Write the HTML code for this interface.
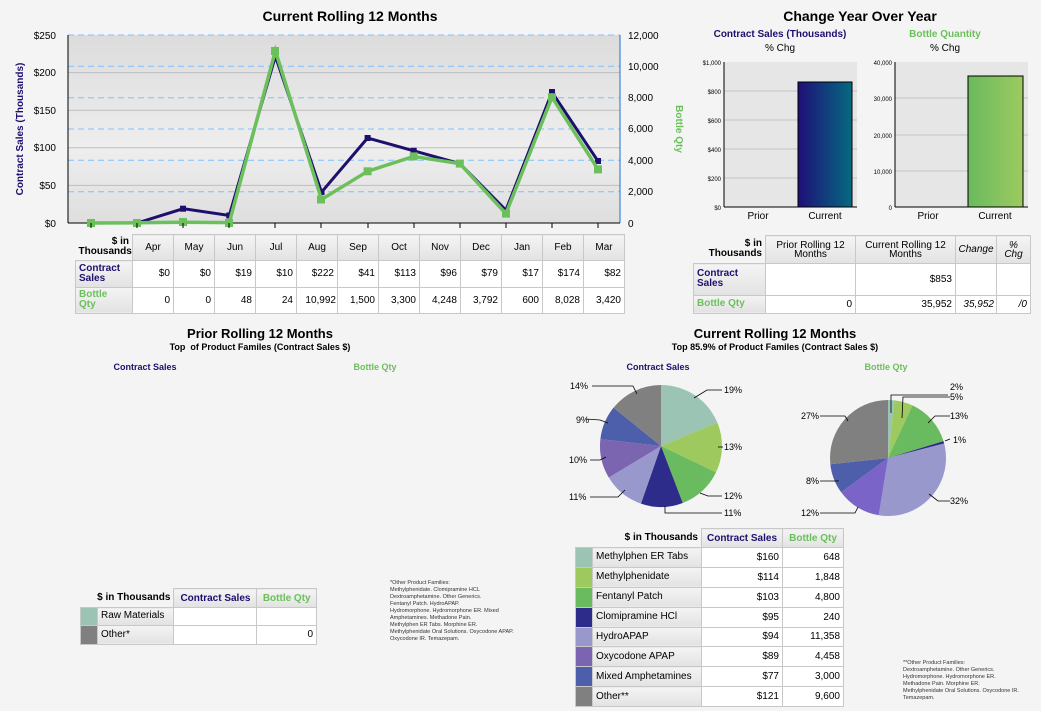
<!DOCTYPE html>
<html><head><meta charset="utf-8"><style>
body{margin:0;width:1041px;height:711px;background:#f4f4f4;font-family:"Liberation Sans",Arial,sans-serif;position:relative;overflow:hidden}
.a{position:absolute}
table{border-collapse:collapse;position:absolute;font-size:10px}
td{border:1px solid #c8c8c8;padding:0 3px;background:#fff;vertical-align:middle}
th{border:1px solid #c8c8c8;background:linear-gradient(#f4f4f4,#e2e2e2);font-weight:normal;padding:0 3px}
.hd{border:none;background:none;text-align:right;font-weight:bold;line-height:10px}
.rh{background:linear-gradient(#f4f4f4,#e2e2e2);font-weight:bold;line-height:10px;text-align:left}
.b{color:#1e0f6e}.g{color:#6cc05c}
.t{font-weight:bold;text-align:center;position:absolute}
.fx{table-layout:fixed}
</style></head><body>
<div class="t" style="left:200px;top:8px;width:300px;font-size:14px">Current Rolling 12 Months</div>
<svg class="a" style="left:0;top:0" width="690" height="235" font-family="Liberation Sans, Arial, sans-serif">
<defs><linearGradient id="pg" x1="0" y1="0" x2="0" y2="1"><stop offset="0" stop-color="#dcdcdc"/><stop offset="0.6" stop-color="#eeeeee"/><stop offset="1" stop-color="#dedede"/></linearGradient></defs>
<rect x="68" y="35" width="552" height="188" fill="url(#pg)"/>
<g stroke="#bdbdbd"><line x1="68" x2="620" y1="185.4" y2="185.4"/><line x1="68" x2="620" y1="147.8" y2="147.8"/><line x1="68" x2="620" y1="110.2" y2="110.2"/><line x1="68" x2="620" y1="72.6" y2="72.6"/></g>
<g stroke="#80c0ff" stroke-dasharray="6,4"><line x1="68" x2="620" y1="191.7" y2="191.7"/><line x1="68" x2="620" y1="160.3" y2="160.3"/><line x1="68" x2="620" y1="129" y2="129"/><line x1="68" x2="620" y1="97.7" y2="97.7"/><line x1="68" x2="620" y1="66.3" y2="66.3"/><line x1="68" x2="620" y1="35" y2="35"/></g>
<line x1="68" y1="35" x2="68" y2="223" stroke="#000"/><line x1="620" y1="35" x2="620" y2="223" stroke="#1e6ed0"/>
<line x1="68" y1="223" x2="620" y2="223" stroke="#000"/>
<g font-size="10" text-anchor="end"><text x="56" y="39">$250</text><text x="56" y="76">$200</text><text x="56" y="114">$150</text><text x="56" y="151">$100</text><text x="56" y="189">$50</text><text x="56" y="227">$0</text></g>
<g font-size="10"><text x="628" y="39">12,000</text><text x="628" y="70">10,000</text><text x="628" y="101">8,000</text><text x="628" y="132">6,000</text><text x="628" y="164">4,000</text><text x="628" y="195">2,000</text><text x="628" y="227">0</text></g>
<text transform="translate(23,129) rotate(-90)" text-anchor="middle" font-size="10" font-weight="bold" fill="#1e0f6e">Contract Sales (Thousands)</text>
<text transform="translate(676,129) rotate(90)" text-anchor="middle" font-size="10" font-weight="bold" fill="#6cc05c">Bottle Qty</text>
<polyline fill="none" stroke="#1e0f6e" stroke-width="3" points="91,223 137.1,223 183.2,208.7 229.3,215.5 275.4,56.1 321.5,192.2 367.6,138 413.7,150.8 459.8,163.6 505.9,210.2 552,92.2 598.1,161.3"/>
<g fill="#1e0f6e"><rect x="134" y="220" width="6" height="6"/><rect x="180" y="205.7" width="6" height="6"/><rect x="226.3" y="212.5" width="6" height="6"/><rect x="318.5" y="189" width="6" height="6"/><rect x="364.6" y="135" width="6" height="6"/><rect x="410.7" y="147.8" width="6" height="6"/><rect x="549" y="89" width="6" height="6"/><rect x="595" y="158" width="6" height="6"/></g>
<polyline fill="none" stroke="#6cc05c" stroke-width="3.5" points="91,223 137.1,222.8 183.2,222.2 229.3,222.6 275.4,50.8 321.5,199.5 367.6,171.3 413.7,156.4 459.8,163.6 505.9,213.6 552,97.2 598.1,169.4"/>
<g fill="#6cc05c"><rect x="87" y="219" width="8" height="8"/><rect x="133" y="219" width="8" height="8"/><rect x="179" y="218" width="8" height="8"/><rect x="225" y="219" width="8" height="8"/><rect x="271" y="47" width="8" height="8"/><rect x="317" y="195.5" width="8" height="8"/><rect x="363.6" y="167.3" width="8" height="8"/><rect x="409.7" y="152.4" width="8" height="8"/><rect x="455.8" y="159.6" width="8" height="8"/><rect x="502" y="209.6" width="8" height="8"/><rect x="548" y="93.2" width="8" height="8"/><rect x="594" y="165.4" width="8" height="8"/></g>
<g stroke="#000"><line x1="91" x2="91" y1="223" y2="228"/><line x1="137" x2="137" y1="223" y2="228"/><line x1="183" x2="183" y1="223" y2="228"/><line x1="229" x2="229" y1="223" y2="228"/><line x1="275" x2="275" y1="223" y2="228"/><line x1="321" x2="321" y1="223" y2="228"/><line x1="368" x2="368" y1="223" y2="228"/><line x1="414" x2="414" y1="223" y2="228"/><line x1="460" x2="460" y1="223" y2="228"/><line x1="506" x2="506" y1="223" y2="228"/><line x1="552" x2="552" y1="223" y2="228"/><line x1="598" x2="598" y1="223" y2="228"/></g>
</svg>
<table class="fx" style="left:75px;top:234px;width:550px;height:80px">
<colgroup><col style="width:57px"><col span="12" style="width:41px"></colgroup>
<tr style="height:26px"><th class="hd" style="background:none">$ in<br>Thousands</th><th>Apr</th><th>May</th><th>Jun</th><th>Jul</th><th>Aug</th><th>Sep</th><th>Oct</th><th>Nov</th><th>Dec</th><th>Jan</th><th>Feb</th><th>Mar</th></tr>
<tr style="text-align:right"><td class="rh b">Contract<br>Sales</td><td>$0</td><td>$0</td><td>$19</td><td>$10</td><td>$222</td><td>$41</td><td>$113</td><td>$96</td><td>$79</td><td>$17</td><td>$174</td><td>$82</td></tr>
<tr style="text-align:right"><td class="rh g">Bottle<br>Qty</td><td>0</td><td>0</td><td>48</td><td>24</td><td style="padding:0 1px">10,992</td><td>1,500</td><td>3,300</td><td>4,248</td><td>3,792</td><td>600</td><td>8,028</td><td>3,420</td></tr>
</table>

<div class="t" style="left:710px;top:8px;width:300px;font-size:14px">Change Year Over Year</div>
<div class="t b" style="left:700px;top:29px;width:160px;font-size:10px">Contract Sales (Thousands)</div>
<div class="t" style="left:700px;top:43px;width:160px;font-size:10px;font-weight:normal">% Chg</div>
<div class="t g" style="left:870px;top:29px;width:150px;font-size:10px">Bottle Quantity</div>
<div class="t" style="left:870px;top:43px;width:150px;font-size:10px;font-weight:normal">% Chg</div>
<svg class="a" style="left:690px;top:55px" width="351" height="170" font-family="Liberation Sans, Arial, sans-serif">
<defs><linearGradient id="bb" x1="0" x2="1"><stop offset="0" stop-color="#1e0f78"/><stop offset="1" stop-color="#056a80"/></linearGradient>
<linearGradient id="gb" x1="0" x2="1"><stop offset="0" stop-color="#6aba5f"/><stop offset="1" stop-color="#9dca5f"/></linearGradient></defs>
<rect x="34" y="7" width="133" height="145" fill="#e6e6e6"/>
<g stroke="#c4c4c4"><line x1="34" x2="167" y1="36" y2="36"/><line x1="34" x2="167" y1="65" y2="65"/><line x1="34" x2="167" y1="94" y2="94"/><line x1="34" x2="167" y1="123" y2="123"/></g>
<line x1="34" y1="7" x2="34" y2="152" stroke="#000"/><line x1="34" y1="152" x2="167" y2="152" stroke="#000"/>
<rect x="108" y="27" width="54" height="125" fill="url(#bb)" stroke="#000"/>
<g font-size="6" text-anchor="end"><text x="31" y="10">$1,000</text><text x="31" y="39">$800</text><text x="31" y="68">$600</text><text x="31" y="97">$400</text><text x="31" y="126">$200</text><text x="31" y="155">$0</text></g>
<text x="68" y="164" font-size="10" text-anchor="middle">Prior</text><text x="135" y="164" font-size="10" text-anchor="middle">Current</text>
<rect x="205" y="7" width="133" height="145" fill="#e6e6e6"/>
<g stroke="#c4c4c4"><line x1="205" x2="338" y1="43" y2="43"/><line x1="205" x2="338" y1="80" y2="80"/><line x1="205" x2="338" y1="116" y2="116"/></g>
<line x1="205" y1="7" x2="205" y2="152" stroke="#000"/><line x1="205" y1="152" x2="338" y2="152" stroke="#000"/>
<rect x="278" y="21" width="55" height="131" fill="url(#gb)" stroke="#000"/>
<g font-size="6" text-anchor="end"><text x="202" y="10">40,000</text><text x="202" y="46">30,000</text><text x="202" y="83">20,000</text><text x="202" y="119">10,000</text><text x="202" y="155">0</text></g>
<text x="238" y="164" font-size="10" text-anchor="middle">Prior</text><text x="305" y="164" font-size="10" text-anchor="middle">Current</text>
</svg>
<table class="fx" style="left:693px;top:235px;width:337px;height:79px">
<colgroup><col style="width:72px"><col style="width:90px"><col style="width:100px"><col style="width:41px"><col style="width:34px"></colgroup>
<tr style="height:28px"><th class="hd" style="background:none">$ in<br>Thousands</th><th style="line-height:9px">Prior Rolling 12<br>Months</th><th style="line-height:9px">Current Rolling 12<br>Months</th><th style="padding:0"><i>Change</i></th><th style="line-height:9px"><i>%<br>Chg</i></th></tr>
<tr style="text-align:right"><td class="rh b">Contract<br>Sales</td><td></td><td>$853</td><td></td><td></td></tr>
<tr style="text-align:right"><td class="rh g">Bottle Qty</td><td>0</td><td>35,952</td><td style="padding:0 2px"><i>35,952</i></td><td><i>/0</i></td></tr>
</table>

<div class="t" style="left:110px;top:326px;width:300px;font-size:13px">Prior Rolling 12 Months</div>
<div class="t" style="left:110px;top:342px;width:300px;font-size:9px">Top &nbsp;of Product Familes (Contract Sales $)</div>
<div class="t b" style="left:90px;top:362px;width:110px;font-size:9px">Contract Sales</div>
<div class="t g" style="left:320px;top:362px;width:110px;font-size:9px">Bottle Qty</div>
<table style="left:80px;top:588px;width:237px;height:57px">
<tr><th class="hd" style="border:none;background:none" colspan="2">$ in Thousands</th><th class="b" style="font-weight:bold;width:76px">Contract Sales</th><th class="g" style="font-weight:bold">Bottle Qty</th></tr>
<tr><td style="background:#9cc4b4;width:10px"></td><td class="rh" style="font-weight:normal">Raw Materials</td><td></td><td></td></tr>
<tr><td style="background:#808080"></td><td class="rh" style="font-weight:normal">Other*</td><td></td><td style="text-align:right">0</td></tr>
</table>
<div class="a" style="left:390px;top:580px;width:140px;font-size:5.5px;line-height:7px;color:#333">*Other Product Families:<br>Methylphenidate. Clomipramine HCL<br>Dextroamphetamine. Other Generics.<br>Fentanyl Patch. HydroAPAP.<br>Hydromorphone. Hydromorphone ER. Mixed Amphetamines. Methadone Pain.<br>Methylphen ER Tabs. Morphine ER.<br>Methylphenidate Oral Solutions. Oxycodone APAP. Oxycodone IR. Temazepam.</div>

<div class="t" style="left:625px;top:326px;width:300px;font-size:13px">Current Rolling 12 Months</div>
<div class="t" style="left:625px;top:342px;width:300px;font-size:9px">Top 85.9% of Product Familes (Contract Sales $)</div>
<div class="t b" style="left:603px;top:362px;width:110px;font-size:9px">Contract Sales</div>
<div class="t g" style="left:831px;top:362px;width:110px;font-size:9px">Bottle Qty</div>
<svg id="pies" class="a" style="left:0;top:0" width="1041" height="530" font-family="Liberation Sans, Arial, sans-serif" font-size="9">
<g stroke="#000" fill="none" stroke-width="0.8">
<polyline points="592,386 633,386 637,394"/><polyline points="694,398 707,390 722,390"/><polyline points="718,447 723,447"/><polyline points="700,493 708,496 722,496"/><polyline points="665,506 665,513 722,513"/>
<polyline points="586,419 600,420 608,423"/><polyline points="590,460 600,460 606,457"/><polyline points="590,497 618,497 625,490"/>
<polyline points="891,413 891,395 948,395"/><polyline points="902,418 903,397 950,397"/><polyline points="928,423 935,416 950,416"/><polyline points="945,441 950,439"/><polyline points="929,494 938,501 950,501"/><polyline points="820,416 845,416 848,421"/><polyline points="820,481 838,481 838,480"/><polyline points="820,513 855,513 858,507"/>
</g>
<g font-size="9"><text x="570" y="389">14%</text><text x="724" y="393">19%</text><text x="724" y="450">13%</text><text x="724" y="499">12%</text><text x="724" y="516">11%</text><text x="576" y="423">9%</text><text x="569" y="463">10%</text><text x="569" y="500">11%</text>
<text x="950" y="390">2%</text><text x="950" y="400">5%</text><text x="950" y="419">13%</text><text x="953" y="443">1%</text><text x="950" y="504">32%</text><text x="801" y="419">27%</text><text x="806" y="484">8%</text><text x="801" y="516">12%</text></g>
</svg>
<script>
(function(){
var cols=["#9cc4b4","#9dc95e","#6aba5f","#2e2c8a","#9898cc","#7b64b0","#4d5eaa","#808080"];
var bq=["#9cc4b4","#9dc95e","#6aba5f","#2e2c8a","#9898cc","#7b64c8","#4d5eaa","#808080"];
function pie(cx,cy,r,vals,c){var s=0,t=vals.reduce(function(a,b){return a+b},0),out="";
vals.forEach(function(v,i){var a0=s/t*2*Math.PI,a1=(s+v)/t*2*Math.PI;s+=v;
var x0=cx+r*Math.sin(a0),y0=cy-r*Math.cos(a0),x1=cx+r*Math.sin(a1),y1=cy-r*Math.cos(a1);
out+='<path d="M'+cx+','+cy+'L'+x0+','+y0+'A'+r+','+r+' 0 '+((a1-a0)>Math.PI?1:0)+' 1 '+x1+','+y1+'Z" fill="'+c[i]+'"/>';});return out;}
var svg=document.getElementById("pies");
svg.insertAdjacentHTML("afterbegin",pie(661,446,61,[160,114,103,95,94,89,77,121],cols)+pie(888,458,58,[648,1848,4800,240,11358,4458,3000,9600],bq));
})();
</script>
<table style="left:575px;top:528px;width:269px;height:179px;font-size:10px">
<tr style="height:19px"><th class="hd" style="border:none;background:none" colspan="2">$ in Thousands</th><th class="b" style="font-weight:bold;width:74px">Contract Sales</th><th class="g" style="font-weight:bold;width:54px">Bottle Qty</th></tr>
<tr><td style="background:#9cc4b4;width:10px"></td><td class="rh" style="font-weight:normal">Methylphen ER Tabs</td><td style="text-align:right">$160</td><td style="text-align:right">648</td></tr>
<tr><td style="background:#9dc95e"></td><td class="rh" style="font-weight:normal">Methylphenidate</td><td style="text-align:right">$114</td><td style="text-align:right">1,848</td></tr>
<tr><td style="background:#6aba5f"></td><td class="rh" style="font-weight:normal">Fentanyl Patch</td><td style="text-align:right">$103</td><td style="text-align:right">4,800</td></tr>
<tr><td style="background:#2e2c8a"></td><td class="rh" style="font-weight:normal">Clomipramine HCl</td><td style="text-align:right">$95</td><td style="text-align:right">240</td></tr>
<tr><td style="background:#9898cc"></td><td class="rh" style="font-weight:normal">HydroAPAP</td><td style="text-align:right">$94</td><td style="text-align:right">11,358</td></tr>
<tr><td style="background:#7b64b0"></td><td class="rh" style="font-weight:normal">Oxycodone APAP</td><td style="text-align:right">$89</td><td style="text-align:right">4,458</td></tr>
<tr><td style="background:#4d5eaa"></td><td class="rh" style="font-weight:normal">Mixed Amphetamines</td><td style="text-align:right">$77</td><td style="text-align:right">3,000</td></tr>
<tr><td style="background:#808080"></td><td class="rh" style="font-weight:normal">Other**</td><td style="text-align:right">$121</td><td style="text-align:right">9,600</td></tr>
</table>
<div class="a" style="left:903px;top:660px;width:135px;font-size:5.5px;line-height:7px;color:#333">**Other Product Families:<br>Dextroamphetamine. Other Generics.<br>Hydromorphone. Hydromorphone ER.<br>Methadone Pain. Morphine ER.<br>Methylphenidate Oral Solutions. Oxycodone IR. Temazepam.</div>
</body></html>
